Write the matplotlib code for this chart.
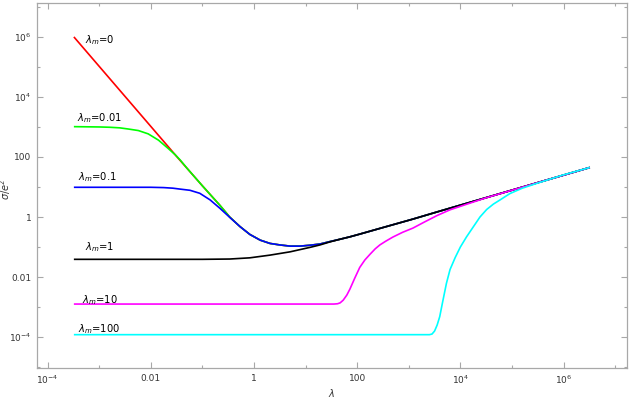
import numpy as np
import matplotlib
matplotlib.use("Agg")
import matplotlib.pyplot as plt
from matplotlib.ticker import FixedLocator, NullFormatter

# curves, as log10(lambda), log10(sigma/e^2)
env_x = [-3.49, -2.5, -1.5, -1.0, -0.66, -0.47, -0.27, -0.08, 0.12, 0.31, 0.5, 0.7,
         0.89, 1.09, 1.28, 1.47, 1.67, 1.86, 2.05, 2.44, 3.08, 3.57, 4.5, 5.5, 6.51]
env_y = [6.0, 4.02, 2.02, 1.04, 0.39, 0.0, -0.32, -0.58, -0.77, -0.88, -0.93, -0.97,
         -0.97, -0.94, -0.9, -0.82, -0.74, -0.66, -0.57, -0.38, -0.07, 0.18, 0.645,
         1.145, 1.65]

green_x = [-3.49, -3.0, -2.8, -2.6, -2.43, -2.24, -2.05, -1.85, -1.66, -1.53, -1.43, -1.3]
green_y = [3.01, 3.0, 2.99, 2.97, 2.93, 2.88, 2.77, 2.56, 2.28, 2.08, 1.9, 1.63]

blue_x = [-3.49, -2.0, -1.75, -1.57, -1.434, -1.24, -1.05, -0.85, -0.66, -0.47]
blue_y = [0.99, 0.99, 0.98, 0.96, 0.93, 0.89, 0.79, 0.57, 0.29, -0.01]

black_x = [-3.49, -1.0, -0.47, -0.08, 0.31, 0.7, 1.09, 1.28, 1.47]
black_y = [-1.41, -1.41, -1.40, -1.36, -1.27, -1.16, -1.01, -0.93, -0.83]

mag_x = [-3.49, 1.55, 1.62, 1.67, 1.73, 1.8, 1.86, 1.95, 2.05, 2.15, 2.25, 2.35, 2.44,
         2.55, 2.69, 2.88, 3.08, 3.3, 3.55, 3.8, 4.2, 4.5, 5.5, 6.51]
mag_y = [-2.9, -2.9, -2.89, -2.86, -2.77, -2.6, -2.4, -2.05, -1.68, -1.43, -1.24, -1.06,
         -0.93, -0.81, -0.67, -0.51, -0.37, -0.17, 0.05, 0.24, 0.47, 0.64, 1.145, 1.65]

cyan_x = [-3.49, 3.40, 3.45, 3.5, 3.55, 3.6, 3.66, 3.73, 3.8, 3.9, 4.0, 4.12, 4.25,
          4.38, 4.51, 4.64, 4.77, 4.96, 5.2, 5.48, 5.99, 6.51]
cyan_y = [-3.92, -3.92, -3.9, -3.8, -3.6, -3.32, -2.8, -2.21, -1.75, -1.35, -1.0, -0.66,
          -0.33, 0.0, 0.25, 0.43, 0.57, 0.78, 0.96, 1.12, 1.4, 1.65]

labels = ["0", "0.01", "0.1", "1", "10", "100"]
label_pos = [(-3.28, 5.9), (-3.43, 3.3), (-3.41, 1.33), (-3.28, -1.0), (-3.33, -2.77), (-3.41, -3.73)]
colors = ["#ff0000", "#00ff00", "#0000ff", "#000000", "#ff00ff", "#00ffff"]


def join(x, y):
    # small-lambda part followed by the common envelope
    ex = [v for v in env_x if v > x[-1]]
    ey = [env_y[i] for i, v in enumerate(env_x) if v > x[-1]]
    return np.array(x + ex), np.array(y + ey)


curves = [
    (np.array(env_x), np.array(env_y)),
    join(green_x, green_y),
    join(blue_x, blue_y),
    join(black_x, black_y),
    (np.array(mag_x), np.array(mag_y)),
    (np.array(cyan_x), np.array(cyan_y)),
]

fig = plt.figure(figsize=(6.3, 3.98), dpi=100)
ax = fig.add_axes([0.0587, 0.0754, 0.9365, 0.9171])

for (cx, cy), c in zip(curves, colors):
    ax.plot(10.0 ** cx, 10.0 ** cy, color=c, lw=1.2, solid_capstyle="butt")

for lab, (tx, ty) in zip(labels, label_pos):
    ax.text(10.0 ** tx, 10.0 ** ty, r"$\lambda_m$=" + lab, fontsize=7.2,
            va="center", ha="left", color="black")

ax.set_xscale("log")
ax.set_yscale("log")
ax.set_xlim(10 ** -4.205, 10 ** 7.229)
ax.set_ylim(10 ** -5.03, 10 ** 7.13)

xmaj = [1e-4, 1e-2, 1, 1e2, 1e4, 1e6]
xlab = [r"$10^{-4}$", "0.01", "1", "100", r"$10^{4}$", r"$10^{6}$"]
ymaj = [1e-4, 1e-2, 1, 1e2, 1e4, 1e6]
ylab = [r"$10^{-4}$", "0.01", "1", "100", r"$10^{4}$", r"$10^{6}$"]
ax.xaxis.set_major_locator(FixedLocator(xmaj))
ax.set_xticklabels(xlab)
ax.yaxis.set_major_locator(FixedLocator(ymaj))
ax.set_yticklabels(ylab)
ax.xaxis.set_minor_locator(FixedLocator([1e-3, 1e-1, 1e1, 1e3, 1e5, 1e7]))
ax.yaxis.set_minor_locator(FixedLocator([1e-5, 1e-3, 1e-1, 1e1, 1e3, 1e5, 1e7]))
ax.xaxis.set_minor_formatter(NullFormatter())
ax.yaxis.set_minor_formatter(NullFormatter())

frame = "#a8a8a8"
for s in ax.spines.values():
    s.set_color(frame)
    s.set_linewidth(0.9)
ax.tick_params(which="both", direction="in", top=True, right=True, color=frame,
               labelsize=6.5, labelcolor="#333333", width=0.8)
ax.tick_params(which="major", length=4, pad=4)
ax.tick_params(which="minor", length=2.5)

ax.set_xlabel(r"$\lambda$", fontsize=7, color="#333333")
ax.set_ylabel(r"$\sigma/e^2$", fontsize=7, color="#333333")
ax.xaxis.set_label_coords(0.5, -0.052)
ax.yaxis.set_label_coords(-0.040, 0.49)

fig.savefig("out.png", dpi=100)
